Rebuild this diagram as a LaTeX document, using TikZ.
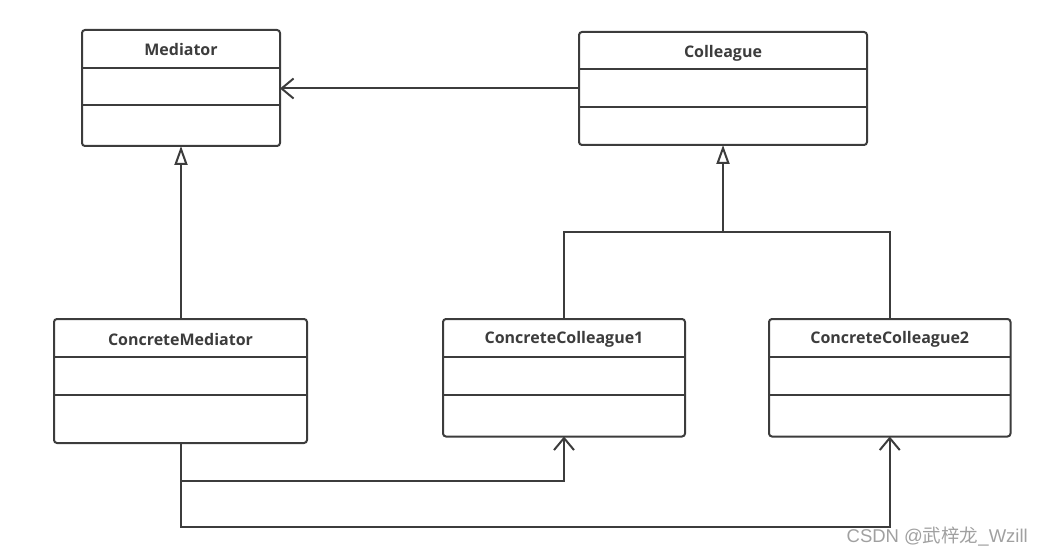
\documentclass[tikz,border=0pt]{standalone}
\usepackage{fontspec}
\setmainfont{Open Sans}
\newfontfamily\cjk{Noto Sans CJK SC}
\newfontfamily\wmlatin{Liberation Sans}
\usetikzlibrary{arrows.meta}
\definecolor{ink}{HTML}{3C3C3C}
\definecolor{wmgray}{HTML}{A0A0A0}
\tikzset{
  umlbox/.style={draw=ink, line width=2pt, rounded corners=3pt, inner sep=0pt, outer sep=0pt, anchor=north west},
  divider/.style={draw=ink, line width=2pt},
  titletext/.style={font=\fontsize{16}{19}\selectfont\bfseries, text=ink, inner sep=0pt},
  conn/.style={draw=ink, line width=2pt},
  assoc/.style={conn, -{Straight Barb[length=12pt,width=20pt]}},
  inherit/.style={conn, -{Triangle[open,length=19pt,width=13pt,fill=white]}},
  wm/.style={font=\fontsize{18.5}{22}\selectfont, text=wmgray, inner sep=0pt}
}
\begin{document}
\begin{tikzpicture}[x=1pt,y=-1pt]
\useasboundingbox (0,0) rectangle (1043,556);
% Mediator
\node[umlbox, minimum width=198pt, minimum height=116pt] (Med) at (82,30) {};
\draw[divider] (82,68) -- (280,68);
\draw[divider] (82,105) -- (280,105);
\node[titletext] (MedT) at (181,50) {Mediator};
% Colleague
\node[umlbox, minimum width=288pt, minimum height=113pt] (Col) at (579,32) {};
\draw[divider] (579,69.5) -- (867,69.5);
\draw[divider] (579,107) -- (867,107);
\node[titletext] (ColT) at (723,53) {Colleague};
% ConcreteMediator
\node[umlbox, minimum width=253pt, minimum height=124pt] (CM) at (54,319) {};
\draw[divider] (54,356.5) -- (307,356.5);
\draw[divider] (54,394.5) -- (307,394.5);
\node[titletext] (CMT) at (180.5,339) {ConcreteMediator};
% ConcreteColleague1
\node[umlbox, minimum width=242pt, minimum height=117.5pt] (CC1) at (443,319) {};
\draw[divider] (443,356.5) -- (685,356.5);
\draw[divider] (443,394.5) -- (685,394.5);
\node[titletext] (CC1T) at (564,339) {ConcreteColleague1};
% ConcreteColleague2
\node[umlbox, minimum width=241.5pt, minimum height=117.5pt] (CC2) at (769,319) {};
\draw[divider] (769,356.5) -- (1010.5,356.5);
\draw[divider] (769,394.5) -- (1010.5,394.5);
\node[titletext] (CC2T) at (889.75,339) {ConcreteColleague2};
% connectors
\draw[assoc] (Col.west) -- (Col.west -| Med.east);
\draw[inherit] (Med.south |- CM.north) -- (Med.south);
\coordinate (J) at (723,232);
\draw[conn] (CC1.north) -- (CC1.north |- J) -- (CC2.north |- J) -- (CC2.north);
\draw[inherit] (J) -- (Col.south);
\coordinate (B1) at (181,480.5);
\coordinate (B2) at (181,526.5);
\draw[assoc] (CM.south -| B1) -- (B1) -| (CC1.south);
\draw[assoc] (CM.south -| B2) -- (B2) -| (CC2.south);
% watermark
\node[wm, anchor=east] (WM) at (1028,537) {\wmlatin CSDN @\cjk 武梓龙\wmlatin\_Wzill};
\end{tikzpicture}
\end{document}
